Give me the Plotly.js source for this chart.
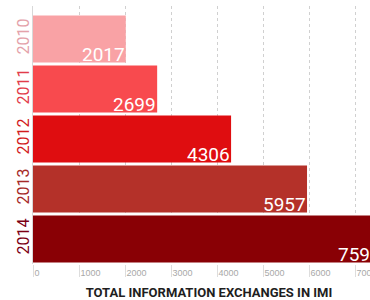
<!DOCTYPE html>
<html><head><meta charset="utf-8">
<script src="https://cdn.plot.ly/plotly-3.0.1.min.js"></script>
<style>html,body{margin:0;padding:0;overflow:hidden;background:#fff}#chart{width:385px;height:300px}</style>
</head><body><div id="chart"></div>
<script>
const years = ['2010', '2011', '2012', '2013', '2014'];
const exchanges = [2017, 2699, 4306, 5957, 7593];
const barColors = ['#f9a2a5', '#f84a4e', '#df0d10', '#b43129', '#890005'];
const yearColors = ['#e4a2aa', '#e23c4a', '#d21c1e', '#a52a28', '#7c0014'];
const xTicks = [0, 1000, 2000, 3000, 4000, 5000, 6000, 7000];

const trace = {
  type: 'bar', orientation: 'h',
  x: exchanges, y: years,
  marker: {color: barColors},
  hoverinfo: 'none'
};

const annotations = years.map((yr, i) => ({
  x: exchanges[i], y: i, xref: 'x', yref: 'y',
  text: String(exchanges[i]), showarrow: false,
  xanchor: 'right', yanchor: 'middle', yshift: -15, xshift: 1,
  font: {family: 'Roboto, sans-serif', size: 19, color: '#ffffff'}
}));

const layout = {
  width: 385, height: 300,
  margin: {l: 33, r: 0, t: 6, b: 36},
  paper_bgcolor: '#ffffff', plot_bgcolor: '#ffffff',
  showlegend: false, bargap: 0.06,
  xaxis: {
    range: [0, 7652], tickvals: xTicks, ticktext: xTicks.map(String),
    showgrid: true, gridcolor: '#d0d0d0', griddash: 'dot', gridwidth: 1,
    zeroline: false, ticks: 'outside', ticklen: 12, tickcolor: '#dddddd',
    ticklabelposition: 'outside right', ticklabelshift: 1,
    tickfont: {family: '"Liberation Sans Narrow", sans-serif', size: 9, color: '#a8a8a8'},
    title: {text: 'TOTAL INFORMATION EXCHANGES IN IMI', standoff: 14,
      font: {family: 'Roboto, sans-serif', size: 13, color: '#1e1e1e', weight: 'bold'}},
    fixedrange: true
  },
  yaxis: {
    type: 'category', range: [4.5, -0.66],
    tickvals: years,
    ticktext: years.map((yr, i) => '<span style="color:' + yearColors[i] + '">' + yr + '</span>'),
    tickangle: -90, ticks: '', showgrid: false, zeroline: false,
    showline: true, linecolor: '#d8d8d8', linewidth: 1, ticklabelstandoff: -3,
    tickfont: {family: 'Roboto, sans-serif', size: 16, color: '#c02020'},
    fixedrange: true
  },
  annotations: annotations
};

Plotly.newPlot('chart', [trace], layout, {displayModeBar: false, staticPlot: true});
</script></body></html>
